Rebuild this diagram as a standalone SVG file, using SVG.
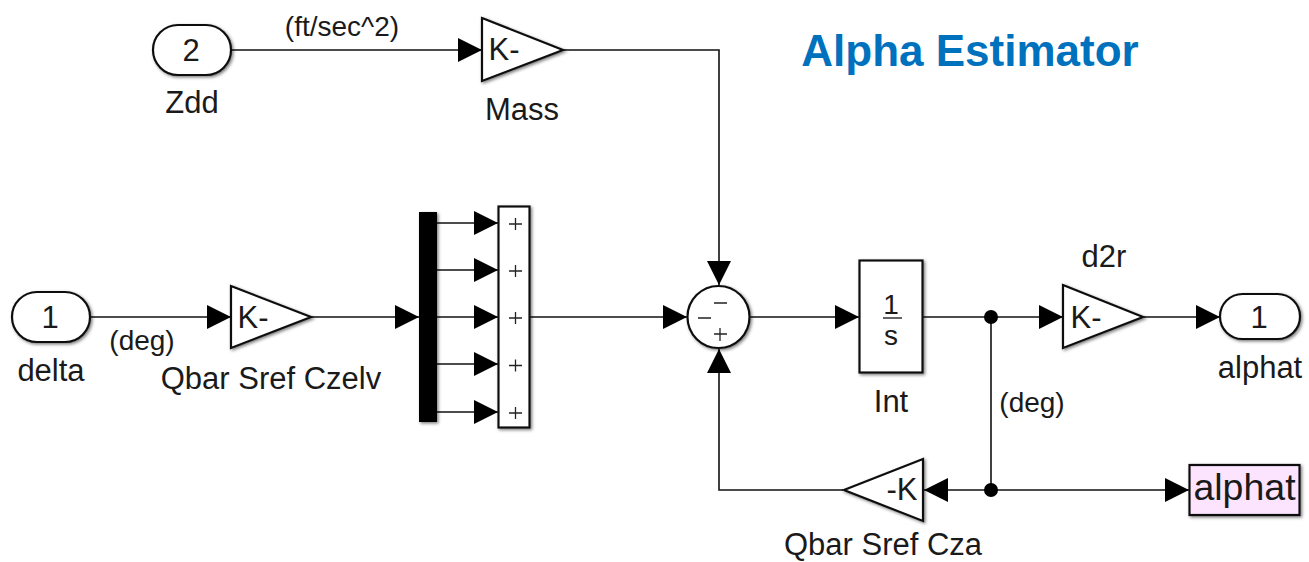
<svg xmlns="http://www.w3.org/2000/svg" width="1309" height="562" viewBox="0 0 1309 562">
<style>
text{font-family:"Liberation Sans",Arial,sans-serif;fill:#1a1a1a}
.l{font-size:31px;text-anchor:middle}
.s{font-size:28px;text-anchor:middle}
.b{fill:#fff;stroke:#111;stroke-width:2.2;filter:url(#sh)}
.w{fill:none;stroke:#111;stroke-width:1.6}
.g{stroke:#222;stroke-width:1.3;fill:none}
</style>
<defs>
<filter id="sh" x="-20%" y="-20%" width="150%" height="150%"><feDropShadow dx="1.5" dy="1.5" stdDeviation="1.5" flood-color="#000" flood-opacity="0.5"/></filter>
<marker id="a" markerUnits="userSpaceOnUse" markerWidth="25" markerHeight="26" refX="24" refY="12" orient="auto"><path d="M0 0L24 12L0 24Z" fill="#000"/></marker>
</defs>
<rect width="1309" height="562" fill="#fff"/>
<g id="connectors">
<path class="w" d="M232 50H482" marker-end="url(#a)"/>
<path class="w" d="M563 50H719V285" marker-end="url(#a)"/>
<path class="w" d="M91 317H231" marker-end="url(#a)"/>
<path class="w" d="M311 317H419" marker-end="url(#a)"/>
<path class="w" d="M437 223H498" marker-end="url(#a)"/>
<path class="w" d="M437 270H498" marker-end="url(#a)"/>
<path class="w" d="M437 317H498" marker-end="url(#a)"/>
<path class="w" d="M437 364H498" marker-end="url(#a)"/>
<path class="w" d="M437 412H498" marker-end="url(#a)"/>
<path class="w" d="M530 317H687" marker-end="url(#a)"/>
<path class="w" d="M750 317H859" marker-end="url(#a)"/>
<path class="w" d="M923 317H1063" marker-end="url(#a)"/>
<path class="w" d="M1144 317H1220" marker-end="url(#a)"/>
<path class="w" d="M991 317V490"/>
<path class="w" d="M991 490H924" marker-end="url(#a)"/>
<path class="w" d="M991 490H1189" marker-end="url(#a)"/>
<path class="w" d="M843 490H719V349" marker-end="url(#a)"/>
<circle cx="991" cy="317" r="7" fill="#000"/>
<circle cx="991" cy="490" r="7" fill="#000"/>
<text class="s" x="342" y="36">(ft/sec^2)</text>
<text class="s" x="142" y="350">(deg)</text>
<text class="s" x="1032" y="412">(deg)</text>
</g>
<g id="title"><text x="970" y="66" font-size="44" font-weight="700" text-anchor="middle" style="fill:#0072bd">Alpha Estimator</text></g>
<g id="zdd"><rect class="b" x="153" y="25" width="78" height="50" rx="25"/><text class="l" x="191" y="61">2</text><text class="l" x="192" y="113">Zdd</text></g>
<g id="mass"><path class="b" d="M482 18L563 50L482 81Z"/><text class="l" x="504" y="60">K-</text><text class="l" x="522" y="120">Mass</text></g>
<g id="delta"><rect class="b" x="12" y="292" width="78" height="50" rx="25"/><text class="l" x="50" y="328">1</text><text class="l" x="51" y="381">delta</text></g>
<g id="czelv"><path class="b" d="M231 286L311 317L231 348Z"/><text class="l" x="253" y="328">K-</text><text class="l" x="271" y="389">Qbar Sref Czelv</text></g>
<g id="mux"><rect x="419" y="212" width="18" height="210" fill="#000" filter="url(#sh)"/></g>
<g id="sum5"><rect class="b" x="498.500" y="206.500" width="31" height="221"/>
<path class="g" d="M509 224H522M515.500 218V230M509 271H522M515.500 265V277M509 318H522M515.500 312V324M509 365.500H522M515.500 359.500V371.500M509 413H522M515.500 407V419"/></g>
<g id="sum"><circle class="b" cx="718.500" cy="317" r="31"/>
<path class="g" d="M714 303H727M698 318H711M714 334H727M720 328V341"/></g>
<g id="int"><rect class="b" x="859.500" y="260.500" width="63" height="112"/><path d="M883 318H902" stroke="#111" stroke-width="1.300"/><text x="891" y="314" font-size="28" text-anchor="middle">1</text><text x="891" y="345" font-size="28" text-anchor="middle">s</text><text class="l" x="891" y="412">Int</text></g>
<g id="d2r"><path class="b" d="M1063 285L1143 317L1063 348Z"/><text class="l" x="1086" y="328">K-</text><text class="l" x="1104" y="267">d2r</text></g>
<g id="alphat-out"><rect class="b" x="1220" y="294" width="80" height="45" rx="22.500"/><text class="l" x="1259" y="328">1</text><text class="l" x="1260" y="378">alphat</text></g>
<g id="cza"><path class="b" d="M923 459L844 490L923 521Z"/><text class="l" x="902" y="500">-K</text><text class="l" x="883" y="555">Qbar Sref Cza</text></g>
<g id="goto"><rect x="1189.500" y="465" width="110" height="50" fill="#fce4ff" stroke="#111" stroke-width="2.200" filter="url(#sh)"/><text x="1244.500" y="500" font-size="37.500" text-anchor="middle">alphat</text></g>
</svg>
